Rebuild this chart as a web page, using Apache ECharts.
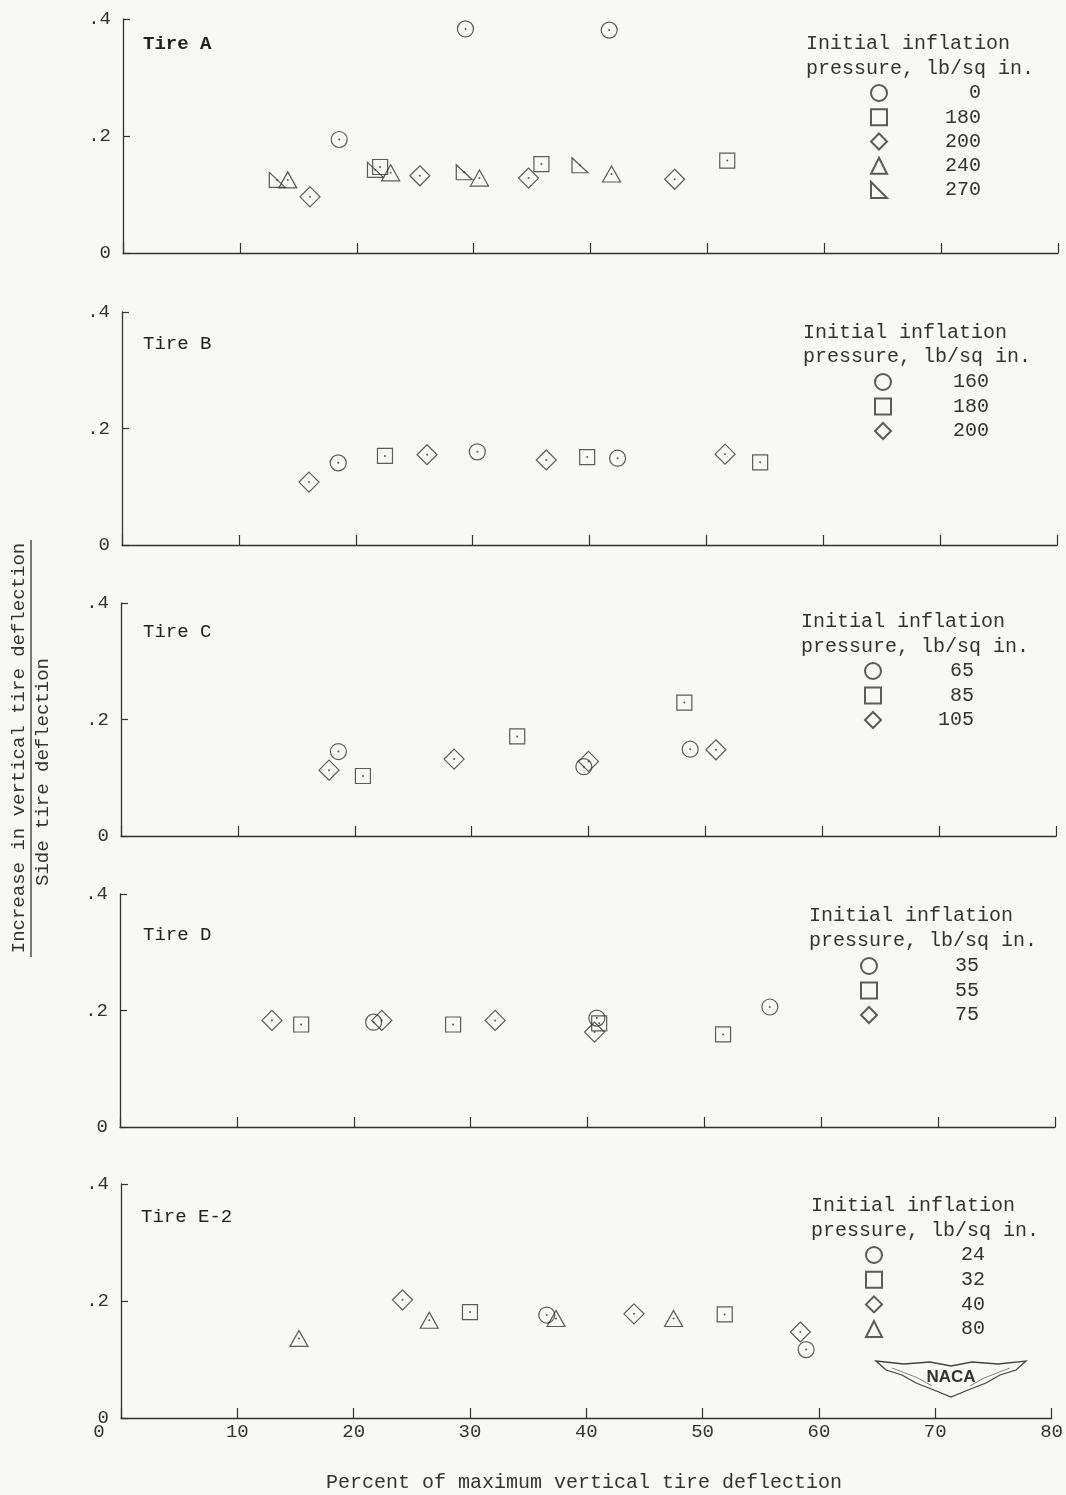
<!DOCTYPE html>
<html>
<head>
<meta charset="utf-8">
<script src="https://cdn.jsdelivr.net/npm/echarts@6/dist/echarts.min.js"></script>
<style>
html,body{margin:0;padding:0;background:#f8f8f7;}
#chart{width:1066px;height:1495px;}
</style>
</head>
<body>
<div id="chart"></div>
<script>
// ---------- data (x = percent of max vertical tire deflection, y = ratio) ----------
const xTicks = [0, 10, 20, 30, 40, 50, 60, 70, 80];
const yTickLabels = ['0', '.2', '.4'];

// Tire A
const tireA_0   = [[29.3, 0.383], [41.6, 0.381], [18.5, 0.194]];
const tireA_180 = [[22.0, 0.147], [35.8, 0.152], [51.7, 0.158]];
const tireA_200 = [[16.0, 0.096], [25.4, 0.132], [34.7, 0.128], [47.2, 0.126]];
const tireA_240 = [[14.1, 0.125], [22.9, 0.137], [30.5, 0.128], [41.8, 0.135]];
const tireA_270 = [[13.2, 0.125], [21.6, 0.142], [29.2, 0.138], [39.1, 0.150]];
// Tire B
const tireB_160 = [[18.5, 0.141], [30.4, 0.160], [42.4, 0.149]];
const tireB_180 = [[22.5, 0.153], [39.8, 0.151], [54.6, 0.142]];
const tireB_200 = [[16.0, 0.108], [26.1, 0.155], [36.3, 0.146], [51.6, 0.156]];
// Tire C
const tireC_65  = [[18.6, 0.145], [39.6, 0.119], [48.7, 0.149]];
const tireC_85  = [[20.7, 0.103], [33.9, 0.171], [48.2, 0.229]];
const tireC_105 = [[17.8, 0.113], [28.5, 0.132], [40.0, 0.128], [50.9, 0.148]];
// Tire D
const tireD_35  = [[21.7, 0.180], [40.8, 0.187], [55.6, 0.206]];
const tireD_55  = [[15.5, 0.176], [28.5, 0.176], [41.0, 0.178], [51.6, 0.159]];
const tireD_75  = [[13.0, 0.183], [22.4, 0.183], [32.1, 0.183], [40.6, 0.163]];
// Tire E-2
const tireE_24  = [[36.6, 0.176], [58.9, 0.117]];
const tireE_32  = [[30.0, 0.181], [51.9, 0.177]];
const tireE_40  = [[24.2, 0.202], [44.1, 0.178], [58.4, 0.147]];
const tireE_80  = [[15.3, 0.136], [26.5, 0.167], [37.4, 0.170], [47.5, 0.170]];

const panelTitles = ['Tire A', 'Tire B', 'Tire C', 'Tire D', 'Tire E-2'];
const legendTitle1 = 'Initial inflation';
const legendTitle2 = 'pressure, lb/sq in.';
const xAxisTitle = 'Percent of maximum vertical tire deflection';
const yAxisTitle1 = 'Increase in vertical tire deflection';
const yAxisTitle2 = 'Side tire deflection';

// ---------- layout / style ----------
const INK = '#333';
const MONO = '"Liberation Mono", "DejaVu Sans Mono", monospace';
const RTRI = 'path://M0,0 L0,10 L10,10 Z';
const SYM = {
  circle: {symbol: 'circle', size: 16},
  square: {symbol: 'rect', size: 15},
  diamond: {symbol: 'diamond', size: 20},
  triangle: {symbol: 'triangle', size: [18, 16]},
  rtri: {symbol: RTRI, size: [16, 15]}
};
const LEG_ICON = 16;
const LEG_TEXT_H = 20;

const panels = [
  {grid: {left: 123, top: 19, width: 935, height: 234},
   series: [['0', tireA_0, 'circle'], ['180', tireA_180, 'square'], ['200', tireA_200, 'diamond'], ['240', tireA_240, 'triangle'], ['270', tireA_270, 'rtri']],
   title: [143, 44, true], lt: [806, 44, 69], lg: {cx: 878, cy: 93, right: 980, gap: 24.25}},
  {grid: {left: 122, top: 312, width: 935, height: 233},
   series: [['160', tireB_160, 'circle'], ['180', tireB_180, 'square'], ['200', tireB_200, 'diamond']],
   title: [143, 344, false], lt: [803, 333, 357], lg: {cx: 882, cy: 382, right: 988, gap: 24.5}},
  {grid: {left: 121, top: 603, width: 935, height: 233},
   series: [['65', tireC_65, 'circle'], ['85', tireC_85, 'square'], ['105', tireC_105, 'diamond']],
   title: [143, 632, false], lt: [801, 622, 647], lg: {cx: 872, cy: 671, right: 973, gap: 24.5}},
  {grid: {left: 120, top: 894, width: 935, height: 233},
   series: [['35', tireD_35, 'circle'], ['55', tireD_55, 'square'], ['75', tireD_75, 'diamond']],
   title: [143, 935, false], lt: [809, 916, 941], lg: {cx: 868, cy: 966, right: 978, gap: 24.5}},
  {grid: {left: 121, top: 1184, width: 935, height: 234},
   series: [['24', tireE_24, 'circle'], ['32', tireE_32, 'square'], ['40', tireE_40, 'diamond'], ['80', tireE_80, 'triangle']],
   title: [141, 1217, false], lt: [811, 1206, 1231], lg: {cx: 873, cy: 1255, right: 984, gap: 24.7}}
];

const grids = [], xAxes = [], yAxes = [], series = [], legends = [], graphics = [];

panels.forEach((p, i) => {
  const last = i === panels.length - 1;
  grids.push(p.grid);
  xAxes.push({
    gridIndex: i, type: 'value', min: xTicks[0], max: xTicks[xTicks.length - 1], interval: 10,
    axisLine: {show: true, onZero: true, lineStyle: {color: INK, width: 1.3}},
    axisTick: {show: true, inside: true, length: 10, lineStyle: {color: INK, width: 1.2}},
    splitLine: {show: false},
    axisLabel: {
      show: last, margin: 4, color: INK, fontFamily: MONO, fontSize: 19,
      formatter: v => v === 0 ? '{z|0}' : String(v),
      rich: {z: {padding: [0, 44, 0, 0], fontFamily: MONO, fontSize: 19, color: INK}}
    }
  });
  yAxes.push({
    gridIndex: i, type: 'value', min: 0, max: 0.4, interval: 0.2,
    axisLine: {show: true, lineStyle: {color: INK, width: 1.3}},
    axisTick: {show: true, inside: true, length: 7, lineStyle: {color: INK, width: 1.2}},
    splitLine: {show: false},
    axisLabel: {
      margin: 12, color: INK, fontFamily: MONO, fontSize: 19,
      formatter: v => yTickLabels[Math.round(v / 0.2)]
    }
  });
  const names = [];
  const all = [];
  p.series.forEach(([name, data, shape]) => {
    const sid = panelTitles[i] + ' ' + name;
    names.push(sid);
    data.forEach(d => all.push(d));
    series.push({
      name: sid, type: 'scatter', xAxisIndex: i, yAxisIndex: i, data: data,
      symbol: SYM[shape].symbol, symbolSize: SYM[shape].size,
      itemStyle: {color: 'rgba(0,0,0,0)', borderColor: INK, borderWidth: 1.2},
      emphasis: {disabled: true}, z: 3
    });
  });
  // center dots of the data markers
  series.push({
    name: panelTitles[i] + ' dots', type: 'scatter', xAxisIndex: i, yAxisIndex: i, data: all,
    symbol: 'circle', symbolSize: 2, itemStyle: {color: INK}, silent: true, z: 4
  });
  const lgLeft = p.lg.cx - LEG_ICON / 2;
  const textW = p.lg.right - (lgLeft + LEG_ICON + 5);
  legends.push({
    data: names, orient: 'vertical', left: lgLeft, top: p.lg.cy - LEG_TEXT_H / 2,
    itemWidth: LEG_ICON, itemHeight: LEG_ICON, itemGap: p.lg.gap - LEG_TEXT_H, padding: 0,
    selectedMode: false,
    formatter: n => '{v|' + n.split(' ').pop() + '}',
    textStyle: {
      rich: {v: {width: textW, align: 'right', fontFamily: MONO, fontSize: 20, color: INK}}
    }
  });
  graphics.push({type: 'text', x: p.title[0], y: p.title[1],
    style: {text: panelTitles[i], font: (p.title[2] ? 'bold ' : '') + '19px ' + MONO, fill: '#222', textAlign: 'left', textVerticalAlign: 'middle'}});
  graphics.push({type: 'text', x: p.lt[0], y: p.lt[1],
    style: {text: legendTitle1, font: '20px ' + MONO, fill: INK, textAlign: 'left', textVerticalAlign: 'middle'}});
  graphics.push({type: 'text', x: p.lt[0], y: p.lt[2],
    style: {text: legendTitle2, font: '20px ' + MONO, fill: INK, textAlign: 'left', textVerticalAlign: 'middle'}});
});

// axis titles
graphics.push({type: 'text', x: 584, y: 1483,
  style: {text: xAxisTitle, font: '20px ' + MONO, fill: INK, textAlign: 'center', textVerticalAlign: 'middle'}});
graphics.push({type: 'text', x: 19, y: 748, rotation: Math.PI / 2,
  style: {text: yAxisTitle1, font: '19px ' + MONO, fill: INK, textAlign: 'center', textVerticalAlign: 'middle'}});
graphics.push({type: 'line', shape: {x1: 31, y1: 540, x2: 31, y2: 957}, style: {stroke: INK, lineWidth: 1.3}});
graphics.push({type: 'text', x: 43, y: 772, rotation: Math.PI / 2,
  style: {text: yAxisTitle2, font: '19px ' + MONO, fill: INK, textAlign: 'center', textVerticalAlign: 'middle'}});

// NACA emblem
graphics.push({type: 'polygon', shape: {points: [[876, 1361], [904, 1364], [930, 1362], [951, 1366], [972, 1362], [998, 1364], [1026, 1361], [1016, 1370], [1000, 1375], [986, 1383], [968, 1390], [951, 1397], [934, 1390], [916, 1383], [902, 1375], [886, 1370]]},
  style: {fill: 'rgba(0,0,0,0)', stroke: '#444', lineWidth: 1.3}});
graphics.push({type: 'polyline', shape: {points: [[892, 1368], [918, 1378], [932, 1386]]}, style: {stroke: '#666', lineWidth: 0.8, fill: null}});
graphics.push({type: 'polyline', shape: {points: [[1010, 1368], [984, 1378], [970, 1386]]}, style: {stroke: '#666', lineWidth: 0.8, fill: null}});
graphics.push({type: 'text', x: 951, y: 1377,
  style: {text: 'NACA', font: 'bold 17px "Liberation Sans", sans-serif', fill: '#333', textAlign: 'center', textVerticalAlign: 'middle'}});

const chart = echarts.init(document.getElementById('chart'), null, {renderer: 'canvas'});
chart.setOption({
  backgroundColor: '#f8f8f7',
  animation: false,
  grid: grids,
  xAxis: xAxes,
  yAxis: yAxes,
  legend: legends,
  series: series,
  graphic: graphics
});
</script>
</body>
</html>
